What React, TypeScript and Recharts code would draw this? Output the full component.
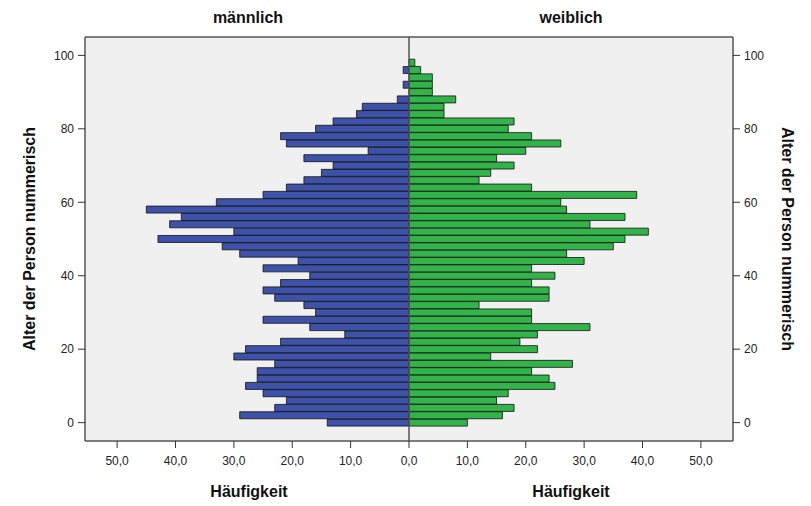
import { BarChart, Bar, XAxis, YAxis, CartesianGrid, ReferenceLine } from 'recharts';

// age groups (2-year classes), bar centres
const ages = [
  0, 2, 4, 6, 8, 10, 12, 14, 16, 18,
  20, 22, 24, 26, 28, 30, 32, 34, 36, 38,
  40, 42, 44, 46, 48, 50, 52, 54, 56, 58,
  60, 62, 64, 66, 68, 70, 72, 74, 76, 78,
  80, 82, 84, 86, 88, 90, 92, 94, 96, 98,
];

const maleCounts = [
  14, 29, 23, 21, 25, 28, 26, 26, 23, 30,
  28, 22, 11, 17, 25, 16, 18, 23, 25, 22,
  17, 25, 19, 29, 32, 43, 30, 41, 39, 45,
  33, 25, 21, 18, 15, 13, 18, 7, 21, 22,
  16, 13, 9, 8, 2, 0, 1, 0, 1, 0,
];

const femaleCounts = [
  10, 16, 18, 15, 17, 25, 24, 21, 28, 14,
  22, 19, 22, 31, 21, 21, 12, 24, 24, 21,
  25, 21, 30, 27, 35, 37, 41, 31, 37, 27,
  26, 39, 21, 12, 14, 18, 15, 20, 26, 21,
  17, 18, 6, 6, 8, 4, 4, 4, 2, 1,
];

const frequencyTicks = [-50, -40, -30, -20, -10, 0, 10, 20, 30, 40, 50];
const ageTicks = [0, 20, 40, 60, 80, 100];

const pyramidData = ages.map((age, i) => ({
  age,
  male: -maleCounts[i],
  female: femaleCounts[i],
}));

const formatCount = (v: number) => Math.abs(v).toFixed(1).replace('.', ',');

const FONT = '"Liberation Sans", Arial, sans-serif';
const FRAME = '#555555';

const textStyle = (x: number, y: number, rotate = 0): React.CSSProperties => ({
  position: 'absolute',
  left: x,
  top: y,
  transform: `translate(-50%, -50%) rotate(${rotate}deg)`,
  fontFamily: FONT,
  fontWeight: 'bold',
  fontSize: 16,
  color: '#111',
  whiteSpace: 'nowrap',
});

export default function App() {
  return (
    <div style={{ position: 'absolute', left: 0, top: 0, width: 811, height: 506, background: '#fff' }}>
      <BarChart
        width={811}
        height={506}
        data={pyramidData}
        layout="vertical"
        stackOffset="sign"
        barCategoryGap="2%"
        margin={{ top: 37, right: 21, bottom: 0, left: 28 }}
      >
        <CartesianGrid horizontal={false} vertical={false} fill="#f0f0f0" />
        <XAxis
          type="number"
          domain={[-55.5, 55.5]}
          ticks={frequencyTicks}
          tickFormatter={formatCount}
          height={65}
          tickSize={7}
          tickMargin={8}
          axisLine={{ stroke: FRAME, strokeWidth: 1.5 }}
          tickLine={{ stroke: '#333' }}
          tick={{ fontSize: 12, fill: '#222', fontFamily: FONT }}
          allowDataOverflow
        />
        <YAxis
          yAxisId="left"
          type="number"
          dataKey="age"
          reversed
          domain={[-5, 105]}
          ticks={ageTicks}
          width={57}
          tickSize={7}
          tickMargin={4}
          axisLine={{ stroke: FRAME, strokeWidth: 1.5 }}
          tickLine={{ stroke: '#333' }}
          tick={{ fontSize: 12, fill: '#222', fontFamily: FONT }}
          allowDataOverflow
        />
        <YAxis
          yAxisId="right"
          orientation="right"
          type="number"
          dataKey="age"
          reversed
          domain={[-5, 105]}
          ticks={ageTicks}
          width={57}
          tickSize={7}
          tickMargin={4}
          axisLine={{ stroke: FRAME, strokeWidth: 1.5 }}
          tickLine={{ stroke: '#333' }}
          tick={{ fontSize: 12, fill: '#222', fontFamily: FONT }}
          allowDataOverflow
        />
        <Bar
          yAxisId="left"
          dataKey="male"
          stackId="pyramid"
          fill="#3d52a8"
          stroke="#111"
          strokeWidth={0.8}
          isAnimationActive={false}
        />
        <Bar
          yAxisId="left"
          dataKey="female"
          stackId="pyramid"
          fill="#33b44a"
          stroke="#111"
          strokeWidth={0.8}
          isAnimationActive={false}
        />
        <ReferenceLine yAxisId="left" x={0} stroke={FRAME} strokeWidth={1.5} />
        <ReferenceLine yAxisId="left" y={105} stroke={FRAME} strokeWidth={1.5} />
      </BarChart>

      <div style={textStyle(248, 18)}>männlich</div>
      <div style={textStyle(571, 18)}>weiblich</div>
      <div style={textStyle(249, 492)}>Häufigkeit</div>
      <div style={textStyle(571, 492)}>Häufigkeit</div>
      <div style={textStyle(30, 239, -90)}>Alter der Person nummerisch</div>
      <div style={textStyle(787, 239, 90)}>Alter der Person nummerisch</div>
    </div>
  );
}
